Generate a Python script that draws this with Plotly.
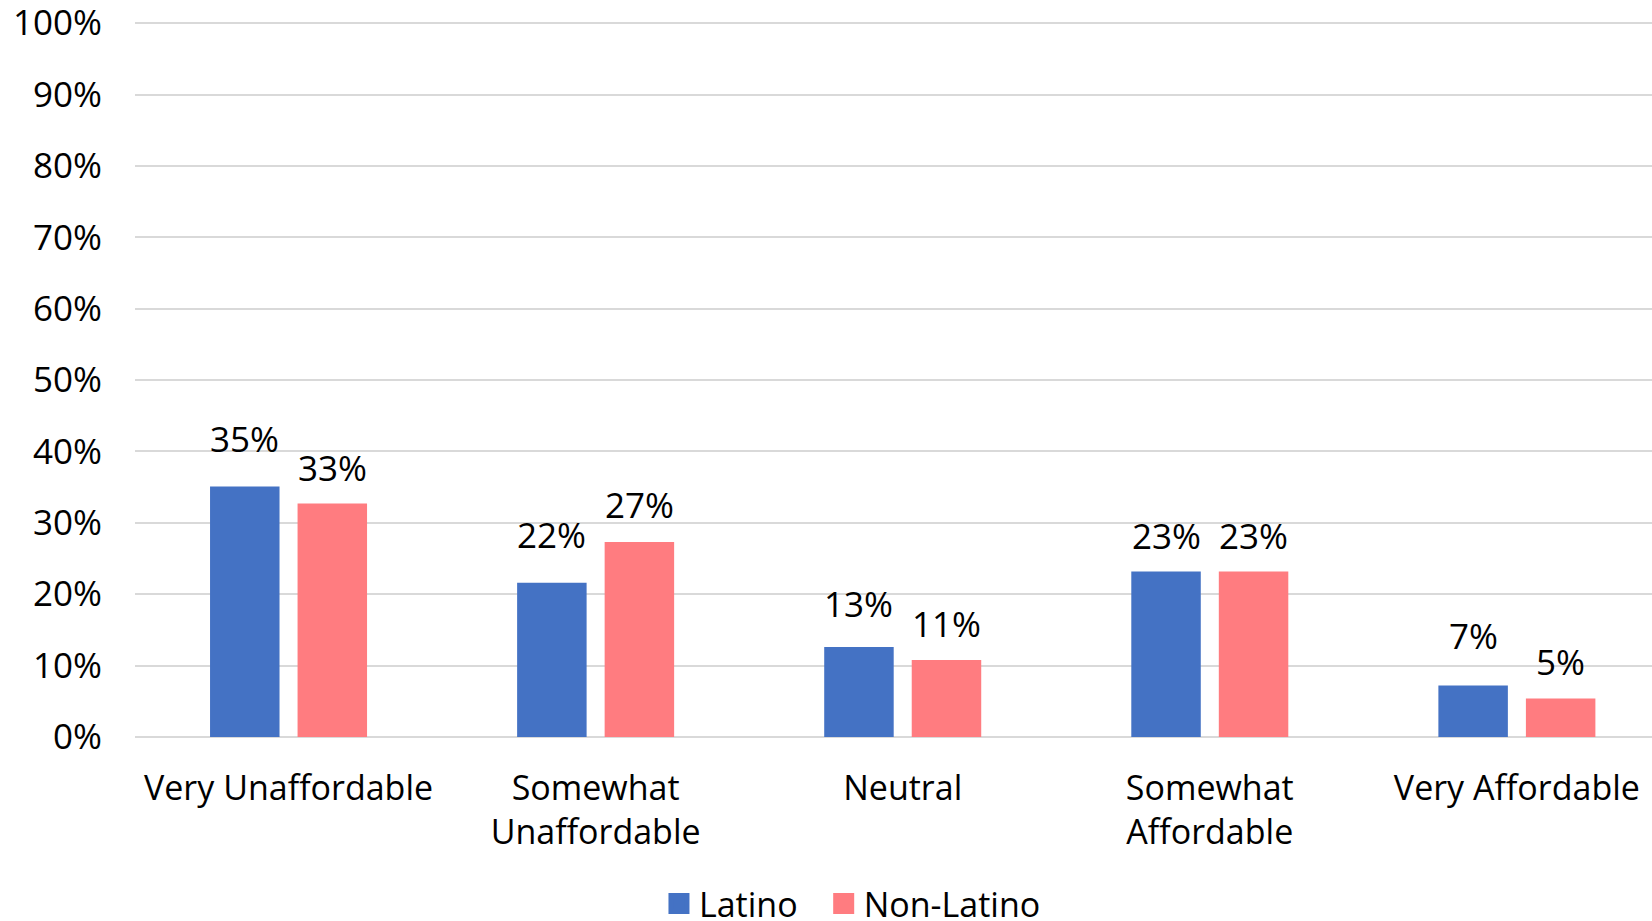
import plotly.graph_objects as go

categories = ["Very Unaffordable", "Somewhat<br>Unaffordable", "Neutral",
              "Somewhat<br>Affordable", "Very Affordable"]
latino = [0.351, 0.216, 0.126, 0.232, 0.072]
non_latino = [0.327, 0.273, 0.108, 0.232, 0.054]
series_names = ["Latino", "Non-Latino"]
y_ticks = [0, 0.1, 0.2, 0.3, 0.4, 0.5, 0.6, 0.7, 0.8, 0.9, 1.0]

# styling
BLUE = "#4472C4"
SALMON = "#FF7C80"
FONT = "Open Sans"
FS_TEXT = 34
FS_NUM = 35
label_gap_latino = [34, 35, 30, 22, 37]   # px between label and bar top
label_gap_non = [23, 24, 23, 22, 23]
BARGAP = 0.43
GROUPGAP = 0.206
slot_offset = (1 - BARGAP) / 4
LEGEND_PAD = "\u00a0\u00a0\u200a"

fig = go.Figure()
fig.add_trace(go.Bar(x=list(range(len(categories))), y=latino, name=series_names[0],
                     marker=dict(color=BLUE, line=dict(width=0)), showlegend=False))
fig.add_trace(go.Bar(x=list(range(len(categories))), y=non_latino, name=series_names[1],
                     marker=dict(color=SALMON, line=dict(width=0)), showlegend=False))
# legend proxies (larger square swatches than plotly's default bar icon)
fig.add_trace(go.Scatter(x=[None], y=[None], mode="markers", name=series_names[0] + LEGEND_PAD,
                         marker=dict(symbol="square", size=16, color=BLUE,
                                     line=dict(width=5, color=BLUE))))
fig.add_trace(go.Scatter(x=[None], y=[None], mode="markers", name=series_names[1],
                         marker=dict(symbol="square", size=16, color=SALMON,
                                     line=dict(width=5, color=SALMON))))

annotations = []
for i in range(len(categories)):
    for vals, off, gaps in ((latino, -slot_offset, label_gap_latino),
                            (non_latino, slot_offset, label_gap_non)):
        annotations.append(dict(
            x=i + off, y=vals[i], xref="x", yref="y",
            text=f"{round(vals[i]*100):d}%", showarrow=False,
            yanchor="bottom", xanchor="center", yshift=gaps[i] - 12,
            font=dict(family=FONT, size=FS_NUM, color="#000000")))

fig.update_layout(
    width=1652, height=921,
    margin=dict(l=135, r=0, t=21, b=184, autoexpand=False),
    paper_bgcolor="white", plot_bgcolor="white",
    barmode="group", bargap=BARGAP, bargroupgap=GROUPGAP,
    font=dict(family=FONT, size=FS_TEXT, color="#000000"),
    annotations=annotations,
    legend=dict(orientation="h", x=0.3454, xanchor="left", y=-0.2332, yanchor="middle",
                font=dict(family=FONT, size=FS_TEXT, color="#000000"),
                itemsizing="trace", bgcolor="rgba(0,0,0,0)", borderwidth=0),
    xaxis=dict(tickmode="array", tickvals=list(range(len(categories))), ticktext=categories,
               range=[-0.5, 4.44], showgrid=False, showline=False, ticks="",
               automargin=False, ticklabelstandoff=28,
               tickfont=dict(family=FONT, size=FS_TEXT, color="#000000")),
    yaxis=dict(range=[0, 1.003], tickvals=y_ticks, tickformat=".0%",
               showgrid=True, gridcolor="#D9D9D9", gridwidth=2,
               zeroline=True, zerolinecolor="#D9D9D9", zerolinewidth=2,
               showline=False, ticks="", ticklabelstandoff=32, automargin=False,
               ticklabeloverflow="allow",
               tickfont=dict(family=FONT, size=FS_NUM, color="#000000")),
)

fig.write_html("out.html",
               config={"displayModeBar": False},
               post_script="document.body.style.margin='0';document.body.style.overflow='hidden';")
